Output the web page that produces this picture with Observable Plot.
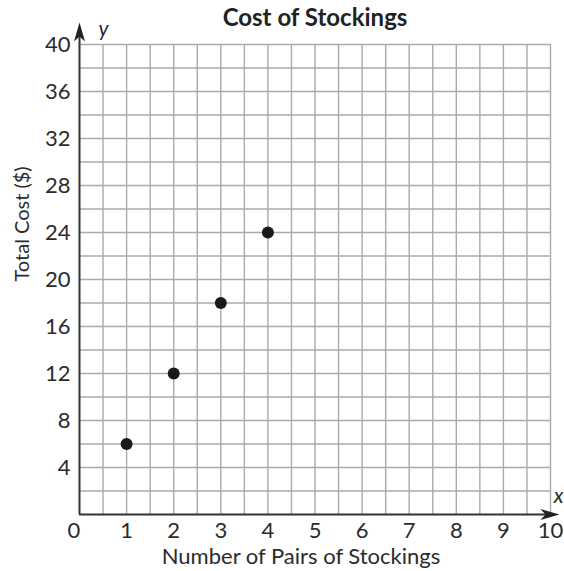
<!DOCTYPE html>
<html><head><meta charset="utf-8">
<script src="https://cdn.jsdelivr.net/npm/d3@7"></script>
<script src="https://cdn.jsdelivr.net/npm/@observablehq/plot@0.6"></script>
<style>body{margin:0;background:#fff} svg{overflow:visible}</style>
</head><body><div id="chart"></div>
<script>
const pairs = [1, 2, 3, 4];
const cost = [6, 12, 18, 24];
const xTicks = [1, 2, 3, 4, 5, 6, 7, 8, 9, 10];
const yTicks = [4, 8, 12, 16, 20, 24, 28, 32, 36, 40];
const xGrid = [0.5, 1, 1.5, 2, 2.5, 3, 3.5, 4, 4.5, 5, 5.5, 6, 6.5, 7, 7.5, 8, 8.5, 9, 9.5, 10];
const yGrid = [2, 4, 6, 8, 10, 12, 14, 16, 18, 20, 22, 24, 26, 28, 30, 32, 34, 36, 38, 40];
const title = "Cost of Stockings";
const xLabel = "Number of Pairs of Stockings";
const yLabel = "Total Cost ($)";

const points = pairs.map((x, i) => ({x, y: cost[i]}));

// arrowhead symbol, tip at origin, pointing up
const arrowHead = {
  draw(ctx) {
    ctx.moveTo(0, 0);
    ctx.lineTo(-5.5, 19);
    ctx.lineTo(0, 14);
    ctx.lineTo(5.5, 19);
    ctx.closePath();
  }
};

const font = "Lato, 'Open Sans', sans-serif";
const ink = "#2b2b2b";

const chart = Plot.plot({
  width: 564,
  height: 571,
  marginLeft: 79,
  marginRight: 14,
  marginTop: 44,
  marginBottom: 57,
  style: {fontFamily: font, color: ink, background: "#fff"},
  x: {domain: [0, 10]},
  y: {domain: [0, 40]},
  marks: [
    Plot.ruleX(xGrid, {y1: 0, y2: 40, stroke: "#aaa", strokeWidth: 1.4}),
    Plot.ruleY(yGrid, {x1: 0, x2: 10, stroke: "#aaa", strokeWidth: 1.4}),
    Plot.ruleX([0], {y1: 0, y2: 41, stroke: "#333", strokeWidth: 2}),
    Plot.ruleY([0], {x1: 0, x2: 10.05, stroke: "#333", strokeWidth: 2}),
    Plot.dot([0], {x: 0, y: 41.87, symbol: arrowHead, fill: "#222", stroke: "none"}),
    Plot.dot([0], {x: 10.19, y: 0, symbol: arrowHead, rotate: 90, fill: "#222", stroke: "none"}),
    Plot.axisX({ticks: xTicks, tickSize: 0, tickPadding: 8, fontSize: 22, label: null, fill: ink}),
    Plot.axisY({ticks: yTicks, tickSize: 0, tickPadding: 9, fontSize: 22, label: null, fill: ink}),
    Plot.text(["0"], {frameAnchor: "bottom-left", lineAnchor: "middle", dx: -12, dy: 16, fontSize: 22, fill: ink}),
    Plot.text(["y"], {frameAnchor: "top-left", lineAnchor: "middle", dx: 19, dy: -15, fontSize: 21, fontStyle: "italic", fill: ink}),
    Plot.text(["x"], {frameAnchor: "bottom-right", lineAnchor: "middle", dx: 13, dy: -18, fontSize: 21, fontStyle: "italic", fill: ink}),
    Plot.dot(points, {x: "x", y: "y", r: 6, fill: "#1a1a1a", stroke: "none"}),
    Plot.text([title], {frameAnchor: "top", lineAnchor: "middle", dx: 0, dy: -26, fontSize: 24, fontWeight: "bold", fill: "#222"}),
    Plot.text([xLabel], {frameAnchor: "bottom", lineAnchor: "middle", dx: -14, dy: 42, fontSize: 22, fill: ink}),
    Plot.text([yLabel], {frameAnchor: "left", lineAnchor: "middle", dx: -57, dy: 2, rotate: -90, fontSize: 20, fill: ink})
  ]
});
document.getElementById("chart").append(chart);
</script>
</body></html>
